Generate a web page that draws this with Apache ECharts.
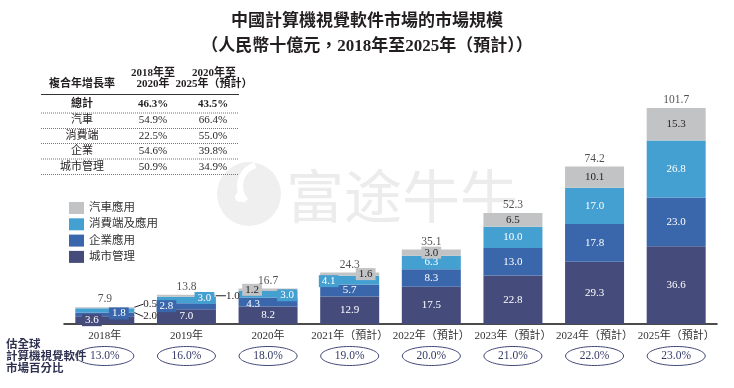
<!DOCTYPE html>
<html>
<head>
<meta charset="utf-8">
<script src="https://cdn.jsdelivr.net/npm/echarts@6/dist/echarts.min.js"></script>
<style>html,body{margin:0;padding:0;background:#fff;}#chart{width:734px;height:388px;}</style>
</head>
<body>
<div id="chart"></div>
<script>
const categories = ['2018年','2019年','2020年','2021年（預計）','2022年（預計）','2023年（預計）','2024年（預計）','2025年（預計）'];
const cityMgmt   = [3.6, 7.0, 8.2, 12.9, 17.5, 22.8, 29.3, 36.6];
const enterprise = [1.8, 2.8, 4.3, 5.7, 8.3, 13.0, 17.8, 23.0];
const consumer   = [2.0, 3.0, 3.0, 4.1, 6.3, 10.0, 17.0, 26.8];
const automotive = [0.5, 1.0, 1.2, 1.6, 3.0, 6.5, 10.1, 15.3];
const totals     = [7.9, 13.8, 16.7, 24.3, 35.1, 52.3, 74.2, 101.7];
const globalShare = [13.0, 16.0, 18.0, 19.0, 20.0, 21.0, 22.0, 23.0];
const seriesNames = ['城市管理','企業應用','消費端及應用','汽車應用'];
const legendOrder = ['汽車應用','消費端及應用','企業應用','城市管理'];
const cagrHeader = '複合年增長率';
const cagrCol1 = ['2018年至','2020年'];
const cagrCol2 = ['2020年至','2025年（預計）'];
const cagrSegments = ['總計','汽車','消費端','企業','城市管理'];
const cagr2018to2020 = ['46.3%','54.9%','22.5%','54.6%','50.9%'];
const cagr2020to2025 = ['43.5%','66.4%','55.0%','39.8%','34.9%'];
const titleLines = ['中國計算機視覺軟件市場的市場規模','（人民幣十億元，2018年至2025年（預計））'];
const shareLabel = ['估全球','計算機視覺軟件','市場百分比'];
const watermark = '富途牛牛';

const FONT = "'Liberation Serif','Noto Sans CJK TC',serif";
const COLORS = {'城市管理':'#454c7b','企業應用':'#3a66ab','消費端及應用':'#45a0d2','汽車應用':'#c2c3c5'};
const TEXT = '#231f20';

// label position tweaks (styling only)
const tweaks = {
  '城市管理': {0:{offset:[-13,0], bg:true}},
  '企業應用': {0:{offset:[14,-1], bg:true}, 1:{offset:[-20,0], bg:true}, 2:{offset:[-15,2]}},
  '消費端及應用': {0:{guide:'down'}, 1:{offset:[18,-2], bg:true}, 2:{offset:[19,1], bg:true}, 3:{offset:[-21,1], bg:true}},
  '汽車應用': {0:{guide:'up'}, 1:{guide:'right'}, 2:{offset:[-16,0], bg:true}, 3:{offset:[16,0], bg:true}, 4:{bg:true}}
};
const valuesByName = {'城市管理':cityMgmt,'企業應用':enterprise,'消費端及應用':consumer,'汽車應用':automotive};

const chart = echarts.init(document.getElementById('chart'));

const barSeries = seriesNames.map(name => {
  const vals = valuesByName[name];
  const tw = tweaks[name] || {};
  const dark = name === '汽車應用';
  return {
    name, type:'bar', stack:'total', barWidth:59,
    itemStyle:{color:COLORS[name]},
    label:{show:true, position:'inside', color: dark ? TEXT : '#fff', fontSize:11, fontFamily:FONT,
      formatter: p => p.value.toFixed(1)},
    labelLayout: function(p){
      const t = tw[p.dataIndex];
      if (!t) return {};
      const r = p.rect;
      if (t.guide === 'up') return {x: r.x + r.width + 9, y: r.y - 3, align:'left', verticalAlign:'middle'};
      if (t.guide === 'down') return {x: r.x + r.width + 9, y: r.y + r.height + 4, align:'left', verticalAlign:'middle'};
      if (t.guide === 'right') return {x: r.x + r.width + 10, y: r.y + r.height/2, align:'left', verticalAlign:'middle'};
      if (t.offset) return {dx: t.offset[0], dy: t.offset[1]};
      return {};
    },
    data: vals.map((v,i) => {
      const t = tw[i];
      if (!t) return v;
      const item = {value:v, label:{}};
      if (t.bg) { item.label.backgroundColor = COLORS[name]; item.label.padding = [1,3,0,3]; }
      if (t.guide) { item.label.color = TEXT; item.labelLine = {show:true, lineStyle:{color:'#231f20', width:1}}; }
      return item;
    })
  };
});

const option = {
  animation:false,
  title:{text: titleLines.join('\n'), left:'center', top:4,
    textStyle:{fontSize:17, fontWeight:'bold', fontFamily:FONT, color:TEXT, lineHeight:25}},
  legend:{orient:'vertical', left:64, top:197, itemWidth:15, itemHeight:12, itemGap:4.3, icon:'rect',
    data: legendOrder, textStyle:{fontSize:11.5, color:'#333', fontFamily:FONT}},
  grid:{left:64, right:17, top:90.4, bottom:64},
  xAxis:{type:'category', data:categories,
    axisLine:{lineStyle:{color:'#111', width:1.5}}, axisTick:{show:false},
    axisLabel:{interval:0, fontSize:11, color:'#333', fontFamily:FONT, margin:7}},
  yAxis:{type:'value', min:0, max:110, show:false, splitLine:{show:false}},
  series: barSeries.concat([
    {name:'總計', type:'scatter', symbolSize:0, data: totals, z:5,
      label:{show:true, position:'top', distance:2, fontSize:11.5, color:TEXT, fontFamily:FONT,
        formatter: p => p.value.toFixed(1)}},
    {name:'市場百分比', type:'custom', clip:false, z:5,
      data: globalShare.map((v,i) => [i, v]),
      renderItem: function(params, api){
        const x = api.coord([api.value(0), 0])[0];
        return {type:'group', children:[
          {type:'ellipse', shape:{cx:x, cy:356, rx:29, ry:9.5}, style:{fill:'none', stroke:'#3f4677', lineWidth:1}},
          {type:'text', style:{x:x, y:356, text: api.value(1).toFixed(1) + '%', align:'center', verticalAlign:'middle',
            fontSize:11.5, fontFamily:FONT, fill:'#333a66'}}
        ]};
      }}
  ]),
  graphic: []
};

const g = [];
// watermark
g.push({type:'circle', shape:{cx:249, cy:194, r:32}, style:{fill:'#efefef'}, z:-10});
g.push({type:'arc', shape:{cx:262, cy:186, r:22, startAngle:2.4, endAngle:4.4}, style:{stroke:'#fff', lineWidth:6, fill:'none'}, z:-9});
g.push({type:'circle', shape:{cx:240, cy:197, r:5}, style:{fill:'#fff'}, z:-9});
g.push({type:'text', style:{x:286, y:196, text:watermark, fontSize:58, fontFamily:"'Noto Sans CJK SC'", fill:'#ececec', verticalAlign:'middle'}, z:-10});
// CAGR table
g.push({type:'text', style:{x:82, y:84, text:cagrHeader, align:'center', verticalAlign:'middle', fontSize:11, fontWeight:'bold', fontFamily:FONT, fill:TEXT}});
cagrCol1.forEach((t,i)=> g.push({type:'text', style:{x:153, y:73+i*11.5, text:t, align:'center', verticalAlign:'middle', fontSize:11, fontWeight:'bold', fontFamily:FONT, fill:TEXT}}));
cagrCol2.forEach((t,i)=> g.push({type:'text', style:{x:214, y:73+i*11.5, text:t, align:'center', verticalAlign:'middle', fontSize:11, fontWeight:'bold', fontFamily:FONT, fill:TEXT}}));
g.push({type:'line', shape:{x1:41, y1:94.5, x2:239, y2:94.5}, style:{stroke:'#333', lineWidth:1}});
const rowY = [104, 120.5, 136, 151.5, 167];
const sepY = [113, 128.5, 143.5, 159, 174.5];
cagrSegments.forEach((s,i)=>{
  const bold = i === 0 ? 'bold' : 'normal';
  g.push({type:'text', style:{x:82, y:rowY[i], text:s, align:'center', verticalAlign:'middle', fontSize:11, fontWeight:bold, fontFamily:FONT, fill:TEXT}});
  g.push({type:'text', style:{x:153, y:rowY[i], text:cagr2018to2020[i], align:'center', verticalAlign:'middle', fontSize:11, fontWeight:bold, fontFamily:FONT, fill:TEXT}});
  g.push({type:'text', style:{x:213, y:rowY[i], text:cagr2020to2025[i], align:'center', verticalAlign:'middle', fontSize:11, fontWeight:bold, fontFamily:FONT, fill:TEXT}});
  g.push({type:'line', shape:{x1:41, y1:sepY[i], x2:239, y2:sepY[i]}, style:{stroke:'#777', lineWidth:1, lineDash:[1,1]}});
});
// share row label
shareLabel.forEach((t,i)=> g.push({type:'text', style:{x:6, y:345+i*12, text:t, verticalAlign:'middle', fontSize:11.5, fontWeight:'bold', fontFamily:FONT, fill:'#2e3150'}}));
option.graphic = g;

chart.setOption(option);
</script>
</body>
</html>
